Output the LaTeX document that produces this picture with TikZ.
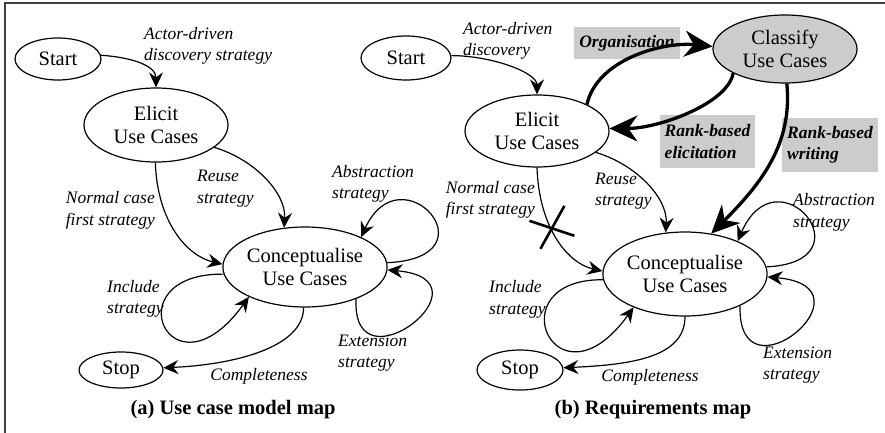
\documentclass[tikz,border=0pt]{standalone}
\usepackage{fontspec}
\setmainfont{Liberation Serif}
\usetikzlibrary{shapes.geometric,arrows.meta,calc}
\definecolor{boxgray}{HTML}{CCCCCC}
\begin{document}
\begin{tikzpicture}[x=1pt,y=-1pt,
  st/.style={ellipse, draw, line width=1.2pt, inner sep=0pt, align=center,
    font=\fontsize{20.5}{23}\selectfont},
  lab/.style={inner sep=0pt, font=\fontsize{17.5}{21.5}\selectfont\itshape},
  blab/.style={inner sep=0pt, fill=boxgray, font=\fontsize{17.5}{21.5}\selectfont\bfseries\itshape},
  captxt/.style={inner sep=0pt, font=\fontsize{20.5}{23}\selectfont\bfseries},
  arr/.style={-{Stealth[length=15pt,width=14pt,inset=5pt]}, line width=1.2pt},
  thk/.style={-{Stealth[length=28pt,width=26pt,inset=9pt]}, line width=3.3pt},
  crossline/.style={line width=2.6pt}
]
\useasboundingbox (0,0) rectangle (885,433);
\draw[line width=1.2pt, black!75] (5,433) -- (5,3) -- (885,3);

% ---------- panel (a) ----------
\node[st, minimum width=86pt, minimum height=42pt] (startA) at (58,59) {Start};
\node[st, minimum width=144pt, minimum height=74pt] (elicitA) at (156,125) {Elicit\\Use Cases};
\node[st, minimum width=164pt, minimum height=80pt] (concA) at (305,267) {Conceptualise\\Use Cases};
\node[st, minimum width=84pt, minimum height=36pt] (stopA) at (121,370) {Stop};

\draw[arr] (startA.5) .. controls +(30,2) and +(0,-22) .. (elicitA.90);
\draw[arr] (elicitA.-21) .. controls +(40,12) and +(2,-35) .. (concA.118);
\draw[arr] (elicitA.-91) .. controls +(2,60) and +(-35,-8) .. (concA.178);
\draw[arr] (concA.185) .. controls +(-112,-1) and +(-78,108) .. (concA.208);
\draw[arr] (concA.3) .. controls +(110,-5) and +(40,-88) .. (concA.28);
\draw[arr] (concA.-32) .. controls +(-5,95) and +(110,10) .. (concA.-2);
\draw[arr] (concA.-92) .. controls +(0,40) and +(70,-3) .. (stopA.3);

\node[lab, anchor=west, align=left] (la1) at (144,46) {Actor-driven\\discovery strategy};
\node[lab, anchor=west, align=left] (la2) at (197,188.5) {Reuse\\strategy};
\node[lab, anchor=east, align=right] (la3) at (155,210.5) {Normal case\\first strategy};
\node[lab, anchor=west, align=left] (la4) at (332,184) {Abstraction\\strategy};
\node[lab, anchor=west, align=left] (la5) at (107,299) {Include\\strategy};
\node[lab, anchor=west, align=left] (la6) at (338,353) {Extension\\strategy};
\node[lab] (la7) at (259,376) {Completeness};
\node[captxt] (capA) at (233,410) {(a) Use case model map};

% ---------- panel (b) ----------
\node[blab, minimum width=106pt, minimum height=32pt] (orgL) at (627,43) {Organisation};
\node[blab, align=left, minimum width=95pt, minimum height=53pt] (rbeL) at (707.5,141.5) {Rank-based\\elicitation};
\node[blab, align=left, minimum width=96pt, minimum height=54pt] (rbwL) at (830,145) {Rank-based\\writing};

\node[st, minimum width=90pt, minimum height=44pt] (startB) at (406,58) {Start};
\node[st, minimum width=144pt, minimum height=72pt] (elicitB) at (537,131) {Elicit\\Use Cases};
\node[st, fill=boxgray, minimum width=144pt, minimum height=68pt] (classB) at (785,49) {Classify\\Use Cases};
\node[st, minimum width=164pt, minimum height=84pt] (concB) at (685,274) {Conceptualise\\Use Cases};
\node[st, minimum width=86pt, minimum height=40pt] (stopB) at (520,370) {Stop};

\draw[arr] (startB.3) .. controls +(40,0) and +(0,-22) .. (elicitB.90);
\draw[arr] (elicitB.-20) .. controls +(40,12) and +(2,-35) .. (concB.115);
\draw[arr] (elicitB.-90) .. controls +(2,60) and +(-35,-8) .. (concB.178) coordinate[pos=0.41] (xm);
\draw[crossline] ([shift={(-22,-8)}]xm) -- ([shift={(23,7)}]xm);
\draw[crossline] ([shift={(13,-23)}]xm) -- ([shift={(-11,20)}]xm);
\draw[arr] (concB.184) .. controls +(-108,-1) and +(-78,108) .. (concB.213);
\draw[arr] (concB.5) .. controls +(105,-5) and +(40,-92) .. (concB.32);
\draw[arr] (concB.-30) .. controls +(-3,100) and +(112,10) .. (concB.-2);
\draw[arr] (concB.-90) .. controls +(0,40) and +(70,-3) .. (stopB.3);

\draw[thk] (elicitB.28) .. controls +(10,-45) and +(-50,-5) .. (classB.178);
\draw[thk] (classB.205) .. controls +(-5,30) and +(50,0) .. (elicitB.2);
\draw[thk] (classB.-87) .. controls +(6,60) and +(50,-50) .. (concB.57);

\node[lab, anchor=west, align=left] (lb1) at (463,41) {Actor-driven\\discovery};
\node[lab, anchor=east, align=right] (lb2) at (535,200) {Normal case\\first strategy};
\node[lab, anchor=west, align=left] (lb3) at (595,191) {Reuse\\strategy};
\node[lab, anchor=west, align=left] (lb4) at (489,299.5) {Include\\strategy};
\node[lab, anchor=west, align=left] (lb5) at (793,212.5) {Abstraction\\strategy};
\node[lab, anchor=west, align=left] (lb6) at (763,365) {Extension\\strategy};
\node[lab] (lb7) at (650,377) {Completeness};
\node[captxt] (capB) at (653,410) {(b) Requirements map};
\end{tikzpicture}
\end{document}
